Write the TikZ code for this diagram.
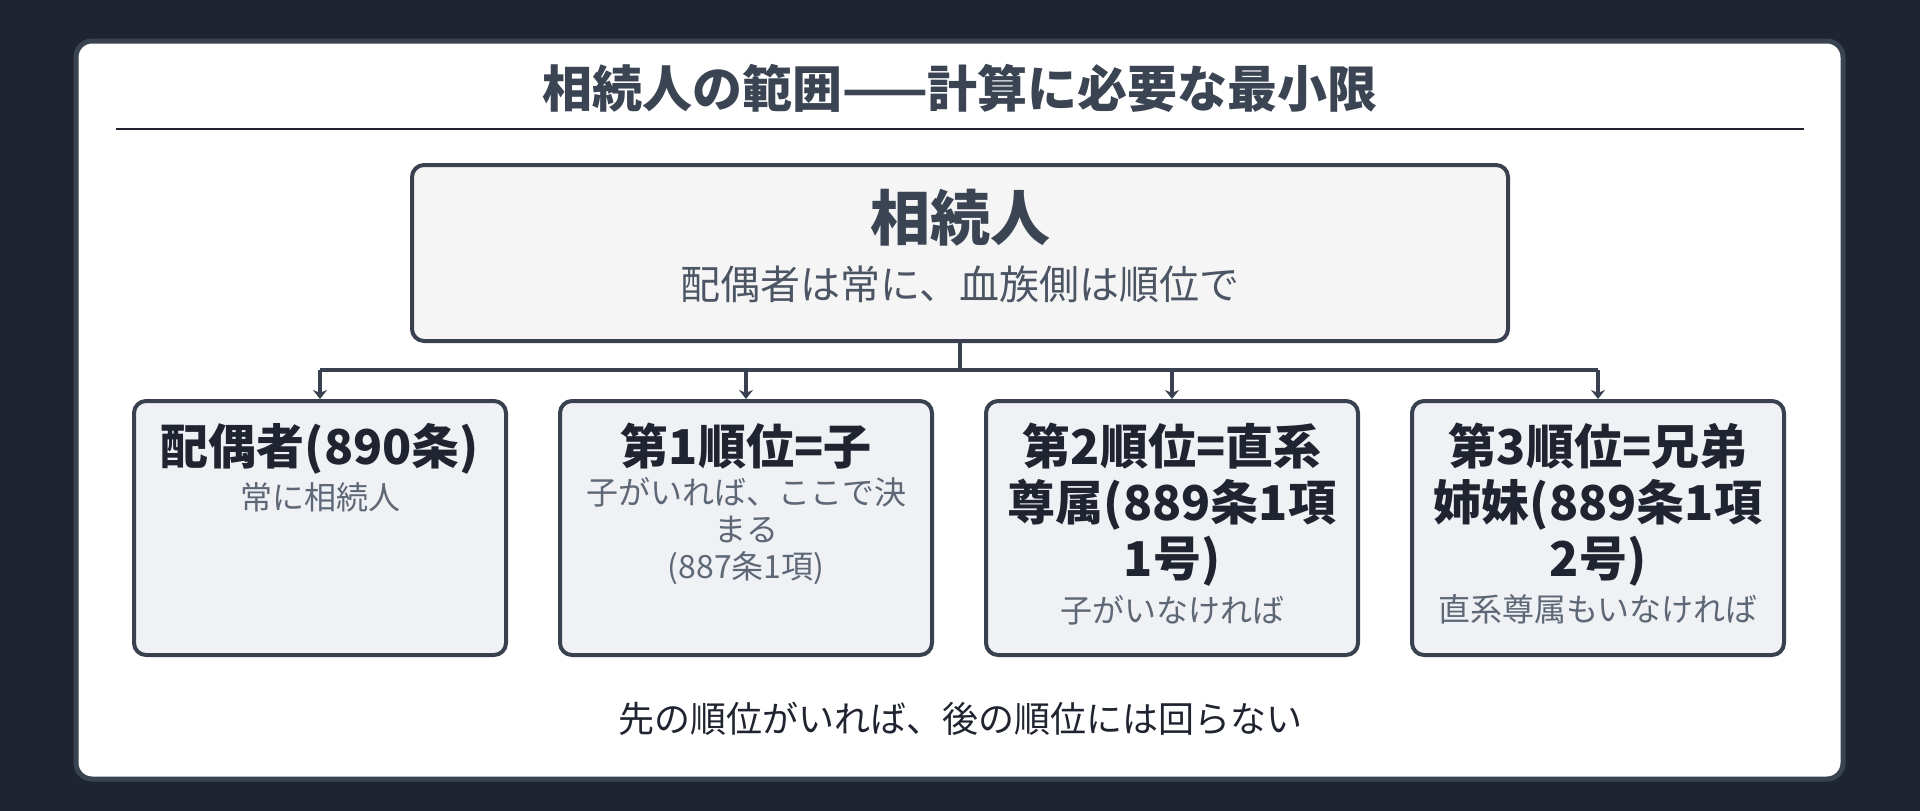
\documentclass[tikz,border=0pt]{standalone}
\usepackage{fontspec}
\setmainfont{Noto Sans CJK JP}
\usetikzlibrary{positioning,arrows.meta}
\definecolor{bgdark}{HTML}{1E2530}
\definecolor{cardedge}{HTML}{3A4350}
\definecolor{edgegray}{HTML}{394150}
\definecolor{titleink}{HTML}{3B4453}
\definecolor{headink}{HTML}{1F2430}
\definecolor{subgray}{HTML}{4B5563}
\definecolor{notegray}{HTML}{5E6775}
\definecolor{topfill}{HTML}{F5F5F5}
\definecolor{rankfill}{HTML}{EFF1F5}
\tikzset{
	heirbox/.style={draw=edgegray, line width=4pt, rounded corners=12pt, fill=topfill, minimum width=1096pt, minimum height=176pt},
	rankbox/.style={draw=edgegray, line width=4pt, rounded corners=12pt, fill=rankfill, minimum width=372pt, minimum height=254pt},
	ranktitle/.style={font=\bfseries\fontsize{48}{56}\selectfont, text=headink, align=center, inner sep=0pt},
	ranknote/.style={font=\fontsize{32}{37}\selectfont, text=notegray, align=center, inner sep=0pt},
	feed/.style={draw=edgegray, line width=3.5pt}
}
\begin{document}
\begin{tikzpicture}[x=1pt, y=-1pt, line join=round, >={Stealth[length=9pt,width=14pt]}]
	\fill[bgdark] (0,0) rectangle (1920,811);
	\draw[cardedge, fill=white, line width=5pt, rounded corners=16pt] (76,41) rectangle (1843,779);
	\node[font=\bfseries\fontsize{50}{60}\selectfont, text=titleink] (title) at (960,88) {相続人の範囲——計算に必要な最小限};
	\draw[headink, line width=2.5pt] (116,129) -- (1804,129);
	% 相続人
	\node[heirbox] (heir) at (960,253) {};
	\node[font=\bfseries\fontsize{60}{70}\selectfont, text=titleink] (heirname) at ([yshift=35pt]heir.center) {相続人};
	\node[font=\fontsize{40}{48}\selectfont, text=subgray] (heirnote) at ([yshift=-31pt]heir.center) {配偶者は常に、血族側は順位で};
	% 順位
	\foreach \name/\cx in {spouse/320, first/746, second/1172, third/1598}
		\node[rankbox] (\name) at (\cx,528) {};
	\node[ranktitle, below=24pt of spouse.north] (spousehead) {配偶者(890条)};
	\node[ranknote, below=8pt of spousehead] (spousenote) {常に相続人};
	\node[ranktitle, below=24pt of first.north] (firsthead) {第1順位=子};
	\node[ranknote, below=8pt of firsthead] (firstnote) {子がいれば、ここで決\\まる\\(887条1項)};
	\node[ranktitle, below=24pt of second.north] (secondhead) {第2順位=直系\\尊属(889条1項\\1号)};
	\node[ranknote, below=8pt of secondhead] (secondnote) {子がいなければ};
	\node[ranktitle, below=24pt of third.north] (thirdhead) {第3順位=兄弟\\姉妹(889条1項\\2号)};
	\node[ranknote, below=8pt of thirdhead] (thirdnote) {直系尊属もいなければ};
	% 線
	\coordinate (bus) at ([yshift=-27pt]heir.south);
	\draw[feed] (heir.south) -- (bus);
	\draw[feed] (spouse.north |- bus) -- (third.north |- bus);
	\foreach \name in {spouse, first, second, third}
		\draw[feed, ->] (\name.north |- bus) -- (\name.north);
	\node[font=\fontsize{36}{43}\selectfont, text=headink] (rule) at (960,719) {先の順位がいれば、後の順位には回らない};
\end{tikzpicture}
\end{document}
